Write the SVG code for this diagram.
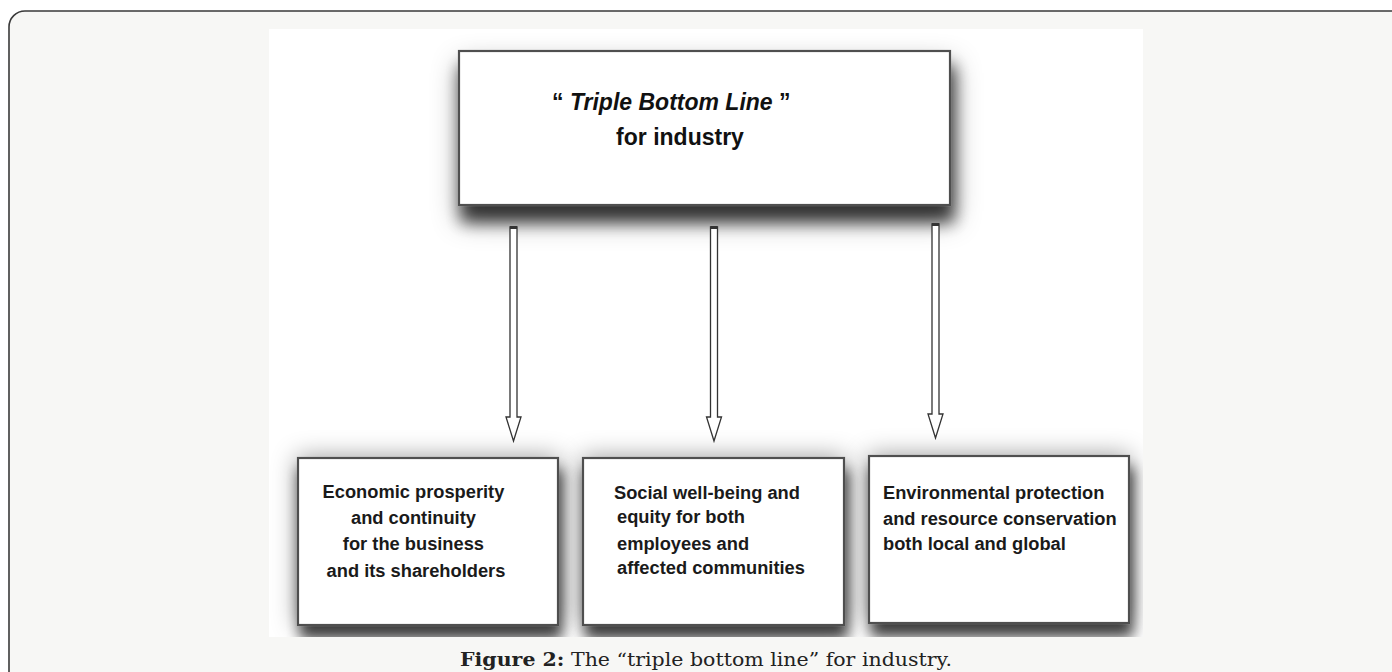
<svg xmlns="http://www.w3.org/2000/svg" width="1392" height="672" viewBox="0 0 1392 672">
  <defs>
    <style>
      .box { fill: #ffffff; stroke: #505050; stroke-width: 2.2; }
      .lbl { font-family: "Liberation Sans", Arial, sans-serif; font-weight: bold; font-size: 18.3px; fill: #1a1a1a; }
      .title { font-family: "Liberation Sans", Arial, sans-serif; font-weight: bold; font-size: 23px; fill: #111111; }
      .arrow { fill: #ffffff; stroke: #333333; stroke-width: 1.3; stroke-linejoin: miter; }
      .cap { fill: #333333; }
      .caption { font-family: "DejaVu Serif", "Liberation Serif", serif; font-size: 19px; fill: #222222; }
    </style>
    <clipPath id="fig">
      <rect x="269" y="29" width="874" height="608"/>
    </clipPath>
    <filter id="shadow" x="-25%" y="-40%" width="150%" height="190%">
      <feGaussianBlur in="SourceAlpha" stdDeviation="7" result="b"/>
      <feOffset in="b" dx="3" dy="13" result="o"/>
      <feFlood flood-color="#000000" flood-opacity="0.7"/>
      <feComposite in2="o" operator="in" result="s"/>
      <feGaussianBlur in="SourceAlpha" stdDeviation="12" result="h"/>
      <feFlood flood-color="#000000" flood-opacity="0.4"/>
      <feComposite in2="h" operator="in" result="halo"/>
      <feMerge>
        <feMergeNode in="halo"/>
        <feMergeNode in="s"/>
        <feMergeNode in="SourceGraphic"/>
      </feMerge>
    </filter>
    <filter id="shadowTop" x="-20%" y="-30%" width="140%" height="175%">
      <feGaussianBlur in="SourceAlpha" stdDeviation="8" result="b"/>
      <feOffset in="b" dx="3" dy="16" result="o"/>
      <feFlood flood-color="#000000" flood-opacity="0.7"/>
      <feComposite in2="o" operator="in" result="s"/>
      <feGaussianBlur in="SourceAlpha" stdDeviation="14" result="h"/>
      <feOffset in="h" dx="2" dy="14" result="ho"/>
      <feFlood flood-color="#000000" flood-opacity="0.4"/>
      <feComposite in2="ho" operator="in" result="halo"/>
      <feMerge>
        <feMergeNode in="halo"/>
        <feMergeNode in="s"/>
        <feMergeNode in="SourceGraphic"/>
      </feMerge>
    </filter>
  </defs>

  <!-- page frame -->
  <rect x="9" y="11" width="1420" height="720" rx="16" ry="16" fill="#f7f7f5" stroke="#3a3a3a" stroke-width="1.6"/>
  <!-- figure area -->
  <rect x="269" y="29" width="874" height="608" fill="#ffffff"/>

  <g id="node-top">
    <rect class="box" x="459" y="51" width="491" height="154" filter="url(#shadowTop)"/>
    <text class="title" x="552" y="110">“ <tspan font-style="italic">Triple Bottom Line</tspan> ”</text>
    <text class="title" x="680" y="145" text-anchor="middle">for industry</text>
  </g>

  <g id="connectors">
    <g id="arrow1">
      <path class="arrow" d="M510,227 H517 V417 L521,417 L513.5,441 L506,417 L510,417 Z"/>
      <rect class="cap" x="510" y="226" width="7" height="3"/>
    </g>
    <g id="arrow2">
      <path class="arrow" d="M710.5,227 H717.5 V417 L721.5,417 L714,441 L706.5,417 L710.5,417 Z"/>
      <rect class="cap" x="710.5" y="226" width="7" height="3"/>
    </g>
    <g id="arrow3">
      <path class="arrow" d="M932,224 H939 V414 L943,414 L935.5,438 L928,414 L932,414 Z"/>
      <rect class="cap" x="932" y="223" width="7" height="3"/>
    </g>
  </g>

  <g id="node-economic">
    <rect class="box" x="298" y="458" width="260" height="167" filter="url(#shadow)" clip-path="url(#fig)"/>
    <text class="lbl" text-anchor="middle">
      <tspan x="416" y="498">Economic prosperity</tspan>
      <tspan x="416" y="524">and continuity</tspan>
      <tspan x="416" y="550">for the business</tspan>
      <tspan x="416" y="577">and its shareholders</tspan>
    </text>
  </g>

  <g id="node-social">
    <rect class="box" x="583" y="458" width="261" height="167" filter="url(#shadow)" clip-path="url(#fig)"/>
    <text class="lbl">
      <tspan x="614" y="499">Social well-being and</tspan>
      <tspan x="617" y="523">equity for both</tspan>
      <tspan x="617" y="550">employees and</tspan>
      <tspan x="617" y="574">affected communities</tspan>
    </text>
  </g>

  <g id="node-environmental">
    <rect class="box" x="869" y="456" width="260" height="167" filter="url(#shadow)" clip-path="url(#fig)"/>
    <text class="lbl">
      <tspan x="883" y="499">Environmental protection</tspan>
      <tspan x="883" y="525">and resource conservation</tspan>
      <tspan x="883" y="550">both local and global</tspan>
    </text>
  </g>

  <text class="caption" x="460" y="666" textLength="492" lengthAdjust="spacingAndGlyphs"><tspan font-weight="bold">Figure 2:</tspan> The “triple bottom line” for industry.</text>
</svg>
